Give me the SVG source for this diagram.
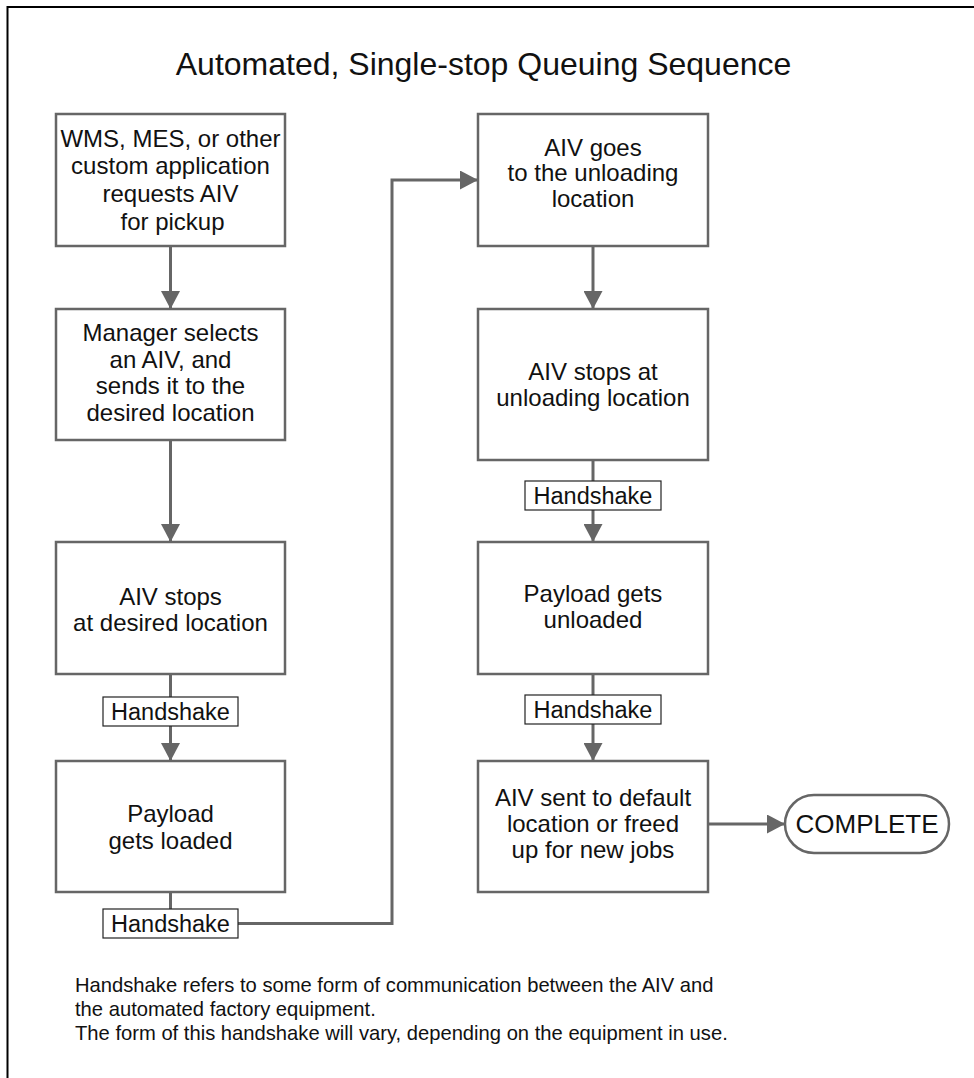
<svg xmlns="http://www.w3.org/2000/svg" width="974" height="1078" viewBox="0 0 974 1078">
<style>
.box{fill:#fff;stroke:#666;stroke-width:2.5}
.lbl{fill:#fff;stroke:#222;stroke-width:1.2}
.t{font-family:"Liberation Sans",Arial,sans-serif;font-size:24px;fill:#111;text-anchor:middle}
.h{font-family:"Liberation Sans",Arial,sans-serif;font-size:23.5px;fill:#111;text-anchor:middle}
.c{fill:none;stroke:#666;stroke-width:3}
.note{font-family:"Liberation Sans",Arial,sans-serif;font-size:20.2px;fill:#111}
</style>
<defs>
<marker id="ah" markerUnits="userSpaceOnUse" markerWidth="18" markerHeight="19" refX="18" refY="9.5" orient="auto">
<path d="M0,0 L18,9.5 L0,19 Z" fill="#666"/>
</marker>
</defs>
<rect width="974" height="1078" fill="#fff"/>
<path d="M7.5,1078 V7 H974" fill="none" stroke="#000" stroke-width="2"/>
<text x="483.5" y="75" font-family="Liberation Sans, Arial, sans-serif" font-size="32" fill="#111" text-anchor="middle">Automated, Single-stop Queuing Sequence</text>

<g id="connectors">
<path class="c" d="M170.5,246 V309" marker-end="url(#ah)"/>
<path class="c" d="M170.5,440 V542" marker-end="url(#ah)"/>
<path class="c" d="M170.5,674 V761" marker-end="url(#ah)"/>
<path class="c" d="M170.5,892 V909"/>
<path class="c" d="M238,923.5 H392 V180 H478" marker-end="url(#ah)"/>
<path class="c" d="M593,246 V309" marker-end="url(#ah)"/>
<path class="c" d="M593,460 V542" marker-end="url(#ah)"/>
<path class="c" d="M593,674 V761" marker-end="url(#ah)"/>
<path class="c" d="M708,824 H785" marker-end="url(#ah)"/>
</g>

<g id="n1"><rect class="box" x="56" y="114" width="229" height="132"/>
<text class="t" x="170.5" y="147">WMS, MES, or other</text>
<text class="t" x="170.5" y="174">custom application</text>
<text class="t" x="170.5" y="201.5">requests AIV</text>
<text class="t" x="172.5" y="229.5">for pickup</text></g>

<g id="n2"><rect class="box" x="56" y="309" width="229" height="131"/>
<text class="t" x="170.5" y="341">Manager selects</text>
<text class="t" x="170.5" y="367.5">an AIV, and</text>
<text class="t" x="170.5" y="394">sends it to the</text>
<text class="t" x="170.5" y="421">desired location</text></g>

<g id="n3"><rect class="box" x="56" y="542" width="229" height="132"/>
<text class="t" x="170.5" y="604.5">AIV stops</text>
<text class="t" x="170.5" y="631">at desired location</text></g>

<g id="n4"><rect class="box" x="56" y="761" width="229" height="131"/>
<text class="t" x="170.5" y="822">Payload</text>
<text class="t" x="170.5" y="848.5">gets loaded</text></g>

<g id="r1"><rect class="box" x="478" y="114" width="230" height="132"/>
<text class="t" x="593" y="155.5">AIV goes</text>
<text class="t" x="593" y="181">to the unloading</text>
<text class="t" x="593" y="206.5">location</text></g>

<g id="r2"><rect class="box" x="478" y="309" width="230" height="151"/>
<text class="t" x="593" y="380">AIV stops at</text>
<text class="t" x="593" y="406">unloading location</text></g>

<g id="r3"><rect class="box" x="478" y="542" width="230" height="132"/>
<text class="t" x="593" y="602">Payload gets</text>
<text class="t" x="593" y="628">unloaded</text></g>

<g id="r4"><rect class="box" x="478" y="761" width="230" height="131"/>
<text class="t" x="593" y="806">AIV sent to default</text>
<text class="t" x="593" y="832">location or freed</text>
<text class="t" x="593" y="858">up for new jobs</text></g>

<g id="complete"><rect class="box" x="785" y="795" width="164" height="58" rx="29" ry="29"/>
<text x="867" y="833" font-family="Liberation Sans, Arial, sans-serif" font-size="26" fill="#111" text-anchor="middle">COMPLETE</text></g>

<g id="hs1"><rect class="lbl" x="103" y="697" width="135" height="29"/>
<text class="h" x="170.5" y="719.5">Handshake</text></g>
<g id="hs2"><rect class="lbl" x="103" y="909" width="135" height="29"/>
<text class="h" x="170.5" y="931.5">Handshake</text></g>
<g id="hs3"><rect class="lbl" x="525" y="481" width="136" height="29"/>
<text class="h" x="593" y="503.5">Handshake</text></g>
<g id="hs4"><rect class="lbl" x="525" y="695" width="136" height="29"/>
<text class="h" x="593" y="717.5">Handshake</text></g>

<g id="footnote">
<text class="note" x="75" y="992">Handshake refers to some form of communication between the AIV and</text>
<text class="note" x="75" y="1016">the automated factory equipment.</text>
<text class="note" x="75" y="1040">The form of this handshake will vary, depending on the equipment in use.</text>
</g>
</svg>
